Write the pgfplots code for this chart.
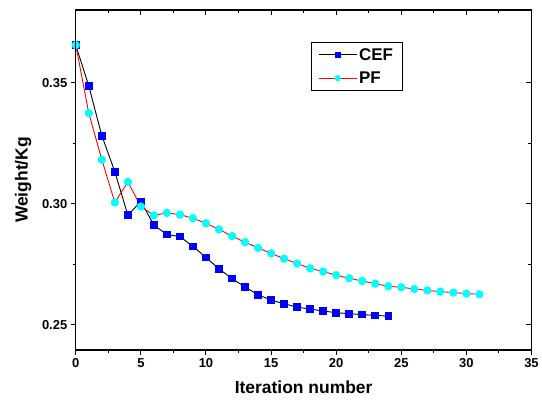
\documentclass[border=0pt]{standalone}
\usepackage{fontspec}
\setmainfont{Liberation Sans}
\usepackage{pgfplots}
\pgfplotsset{compat=1.18}
\definecolor{cefblue}{RGB}{0,0,255}
\definecolor{pfcyan}{RGB}{0,255,255}
\begin{document}
\begin{tikzpicture}
\pgfplotsset{
  common/.style={
    scale only axis, width=457pt, height=341pt,
    xmin=0, xmax=35, ymin=0.2396, ymax=0.380,
    xtick={0,5,...,35}, ytick={0.25,0.30,0.35},
    minor x tick num=1, minor y tick num=1,
    major tick length=5pt, minor tick length=3pt,
    axis line style={line width=1.2pt},
    every tick/.style={line width=1pt, black},
  }
}
\begin{axis}[common, name=main,
  xtick pos=left, ytick pos=left, tick align=outside,
  /pgf/number format/assume math mode=true,
  ticklabel style={font=\bfseries\fontsize{13}{13}\selectfont},
  yticklabel style={/pgf/number format/fixed, /pgf/number format/fixed zerofill, /pgf/number format/precision=2},
  scaled y ticks=false,
  xlabel={\bfseries Iteration number},
  ylabel={\bfseries Weight/Kg},
  label style={font=\fontsize{17.5}{17.5}\selectfont},
  xlabel style={yshift=-6pt},
  ylabel style={yshift=4pt},
  legend style={at={(0.516,0.906)}, anchor=north west, draw=black, line width=0.8pt,
    font=\bfseries\fontsize{17}{17}\selectfont, inner xsep=7pt, inner ysep=4pt, row sep=6pt},
  legend cell align=left,
  legend image code/.code={\draw[mark repeat=2,mark phase=2, line width=1pt, mark size=2.6pt] plot coordinates {(0pt,0pt) (19pt,0pt) (38pt,0pt)};},
]
\addplot[black, line width=0.9pt, mark=square*, mark size=3.3pt, mark options={fill=cefblue, draw=cefblue, solid}] coordinates {
(0,0.3655) (1,0.3486) (2,0.3281) (3,0.3132) (4,0.2953) (5,0.3009) (6,0.2912) (7,0.2873) (8,0.2864) (9,0.2824) (10,0.2778) (11,0.2731) (12,0.2691) (13,0.2656) (14,0.2624) (15,0.2602) (16,0.2587) (17,0.2573) (18,0.2565) (19,0.2557) (20,0.2550) (21,0.2546) (22,0.2542) (23,0.2539) (24,0.2536)
};
\addlegendentry{\textbf{CEF}}
\addplot[red, line width=0.9pt, mark=*, mark size=3.7pt, mark options={fill=pfcyan, draw=pfcyan, solid}] coordinates {
(0,0.3655) (1,0.3374) (2,0.3182) (3,0.3005) (4,0.3090) (5,0.2988) (6,0.2952) (7,0.2962) (8,0.2955) (9,0.2940) (10,0.2919) (11,0.2894) (12,0.2866) (13,0.2841) (14,0.2818) (15,0.2795) (16,0.2773) (17,0.2753) (18,0.2733) (19,0.2720) (20,0.2705) (21,0.2692) (22,0.2681) (23,0.2670) (24,0.2659) (25,0.2655) (26,0.2648) (27,0.2642) (28,0.2637) (29,0.2633) (30,0.2629) (31,0.2626)
};
\addlegendentry{\textbf{PF}}
\end{axis}
\begin{axis}[common,
  xtick pos=right, ytick pos=right, tick align=inside,
  xticklabels={}, yticklabels={},
]
\end{axis}
\path ([shift={(-76pt,-56pt)}]main.south west) rectangle ([shift={(9pt,10pt)}]main.north east);
\end{tikzpicture}
\end{document}
